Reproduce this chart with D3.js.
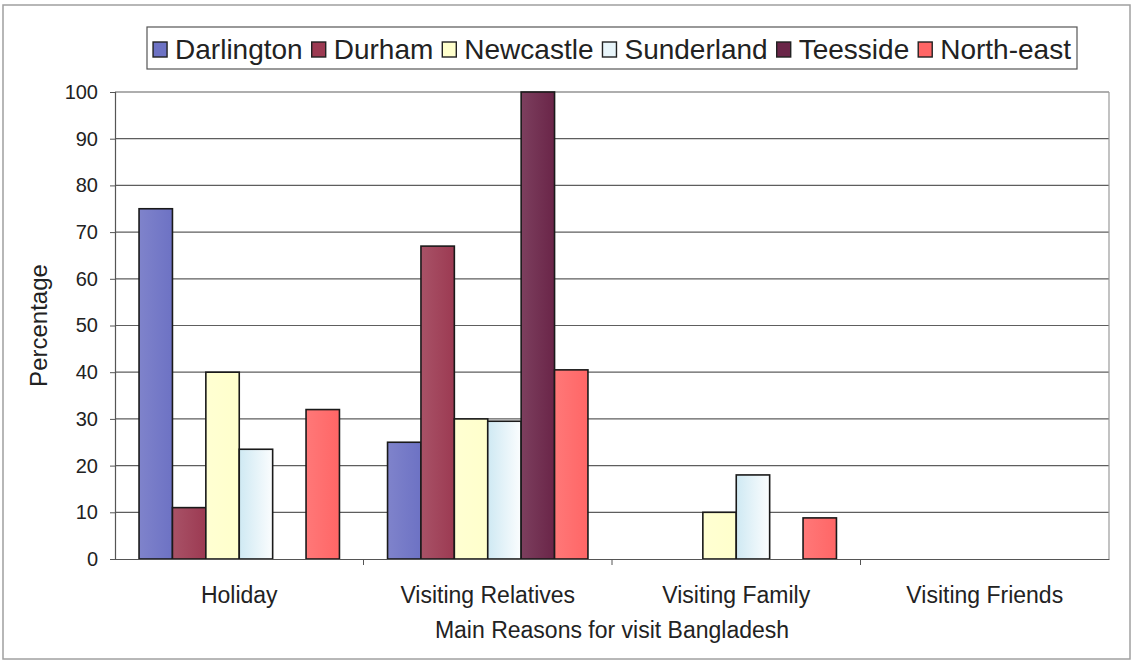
<!DOCTYPE html>
<html>
<head>
<meta charset="utf-8">
<script src="https://cdn.jsdelivr.net/npm/d3@7"></script>
<style>
  html, body { margin: 0; padding: 0; background: #fff; }
  svg { display: block; }
  text { font-family: "Liberation Sans", Arial, sans-serif; fill: #222; }
</style>
</head>
<body>
<svg id="chart" width="1133" height="663"></svg>
<script>
const categories = ["Holiday", "Visiting Relatives", "Visiting Family", "Visiting Friends"];
const seriesNames = ["Darlington", "Durham", "Newcastle", "Sunderland", "Teesside", "North-east"];
const darlington = [75, 25, 0, 0];
const durham     = [11, 67, 0, 0];
const newcastle  = [40, 30, 10, 0];
const sunderland = [23.5, 29.5, 18, 0];
const teesside   = [0, 100, 0, 0];
const northEast  = [32, 40.5, 8.8, 0];
const yTicks = [0, 10, 20, 30, 40, 50, 60, 70, 80, 90, 100];
const colors = ["#6d72c4", "#9c3a52", "#ffffcc", "#e8f5fa", "#6a2548", "#ff6666"];
const xTitle = "Main Reasons for visit Bangladesh";
const yTitle = "Percentage";

const seriesValues = [darlington, durham, newcastle, sunderland, teesside, northEast];

const svg = d3.select("#chart");
const m = { left: 115, right: 1109, top: 92, bottom: 559 };

// outer frame
svg.append("rect").attr("x", 3).attr("y", 5).attr("width", 1127).attr("height", 654)
  .attr("fill", "none").attr("stroke", "#a0a0a0").attr("stroke-width", 1.5);

const x0 = d3.scaleBand().domain(categories).range([m.left, m.right]).padding(0);
const x1 = d3.scaleBand().domain(seriesNames).range([0, x0.bandwidth()]).paddingInner(0).paddingOuter(0.72);
const y = d3.scaleLinear().domain([0, 100]).range([m.bottom, m.top]);

// gridlines
svg.append("g").selectAll("line").data(yTicks.filter(t => t > 0)).join("line")
  .attr("x1", m.left).attr("x2", m.right)
  .attr("y1", d => y(d)).attr("y2", d => y(d))
  .attr("stroke", "#5e5e5e").attr("stroke-width", 1.2);

// plot right border
svg.append("line").attr("x1", m.right).attr("x2", m.right).attr("y1", m.top).attr("y2", m.bottom)
  .attr("stroke", "#9a9a9a").attr("stroke-width", 1.2);

// gradients
const defs = svg.append("defs");
colors.forEach((c, i) => {
  const g = defs.append("linearGradient").attr("id", "g" + i).attr("x1", "0").attr("x2", "1").attr("y1", "0").attr("y2", "0");
  const base = d3.color(c);
  const lighter = d3.interpolateRgb(c, "#ffffff")(0.12);
  g.append("stop").attr("offset", "0%").attr("stop-color", i === 3 ? "#cfe9f3" : lighter);
  g.append("stop").attr("offset", "100%").attr("stop-color", i === 3 ? "#fbfdfe" : base.formatHex());
});

// bars
const groups = svg.append("g").selectAll("g").data(seriesNames).join("g");
groups.each(function(name, si) {
  d3.select(this).selectAll("rect").data(categories.map((c, ci) => ({ c, v: seriesValues[si][ci] })))
    .join("rect")
    .filter(d => d.v > 0)
    .attr("x", d => x0(d.c) + x1(name))
    .attr("y", d => y(d.v))
    .attr("width", x1.bandwidth())
    .attr("height", d => y(0) - y(d.v))
    .attr("fill", "url(#g" + si + ")")
    .attr("stroke", "#1a1a1a").attr("stroke-width", 1.6);
});

// y axis
const yAxis = d3.axisLeft(y).tickValues(yTicks).tickSize(5).tickPadding(12);
const yg = svg.append("g").attr("transform", `translate(${m.left},0)`).call(yAxis);
yg.select(".domain").attr("stroke", "#555").attr("stroke-width", 1.2);
yg.selectAll(".tick line").attr("stroke", "#555");
yg.selectAll(".tick text").style("font-size", "20px").style("font-family", "Liberation Sans, Arial, sans-serif").attr("fill", "#222");

// x axis
const xAxis = d3.axisBottom(x0).tickSize(0).tickPadding(28);
const xg = svg.append("g").attr("transform", `translate(0,${m.bottom})`).call(xAxis);
xg.select(".domain").attr("stroke", "#555").attr("stroke-width", 1.2);
xg.selectAll(".tick text").style("font-size", "23px").style("font-family", "Liberation Sans, Arial, sans-serif").attr("fill", "#222");
// boundary ticks between categories
xg.append("g").selectAll("line").data(categories.slice(1)).join("line")
  .attr("x1", d => x0(d)).attr("x2", d => x0(d)).attr("y1", 0).attr("y2", 6)
  .attr("stroke", "#555");

// titles
svg.append("text").attr("x", (m.left + m.right) / 2).attr("y", 638)
  .attr("text-anchor", "middle").style("font-size", "23px").text(xTitle);
svg.append("text").attr("transform", `translate(47,${(m.top + m.bottom) / 2}) rotate(-90)`)
  .attr("text-anchor", "middle").style("font-size", "24px").text(yTitle);

// legend
const lg = svg.append("g");
lg.append("rect").attr("x", 147).attr("y", 27).attr("width", 930).attr("height", 42)
  .attr("fill", "#fff").attr("stroke", "#555").attr("stroke-width", 1.2);
let cx = 0;
const items = lg.append("g");
seriesNames.forEach((name, i) => {
  const it = items.append("g").attr("transform", `translate(${cx},0)`);
  it.append("rect").attr("x", 0).attr("y", 42).attr("width", 14).attr("height", 15)
    .attr("fill", colors[i]).attr("stroke", "#222").attr("stroke-width", 1.4);
  const t = it.append("text").attr("x", 22).attr("y", 59).style("font-size", "28px").text(name);
  cx += 22 + t.node().getComputedTextLength() + 9;
});
const totalW = cx - 9;
items.attr("transform", `translate(${147 + (930 - totalW) / 2},0)`);
</script>
</body>
</html>
